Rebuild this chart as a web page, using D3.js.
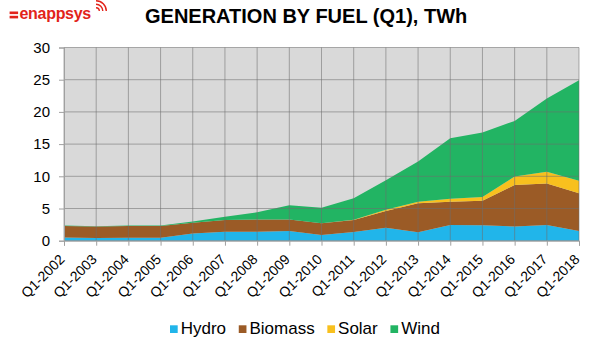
<!DOCTYPE html>
<html>
<head>
<meta charset="utf-8">
<script src="https://cdn.jsdelivr.net/npm/d3@7"></script>
<style>
  html, body { margin: 0; padding: 0; background: #fff; }
  svg { display: block; font-family: "Liberation Sans", Arial, sans-serif; }
</style>
</head>
<body>
<svg id="chart" width="606" height="354"></svg>
<script>
const categories = ["Q1-2002","Q1-2003","Q1-2004","Q1-2005","Q1-2006","Q1-2007","Q1-2008","Q1-2009","Q1-2010","Q1-2011","Q1-2012","Q1-2013","Q1-2014","Q1-2015","Q1-2016","Q1-2017","Q1-2018"];
const hydro   = [0.5, 0.4, 0.45, 0.45, 1.1, 1.4, 1.4, 1.5, 0.9, 1.35, 2.0, 1.3, 2.45, 2.4, 2.2, 2.45, 1.5];
const biomass = [1.8, 1.8, 1.85, 1.85, 1.7, 1.8, 1.9, 1.8, 1.8, 1.85, 2.6, 4.5, 3.6, 3.8, 6.45, 6.45, 5.85];
const solar   = [0, 0, 0, 0, 0, 0, 0, 0, 0, 0.05, 0.2, 0.25, 0.45, 0.6, 1.3, 1.8, 1.95];
const wind    = [0.05, 0.05, 0.05, 0.05, 0.2, 0.5, 1.1, 2.2, 2.4, 3.35, 4.6, 6.25, 9.4, 10.0, 8.65, 11.4, 15.6];
const yTicks  = [0, 5, 10, 15, 20, 25, 30];
const seriesNames = ["Hydro", "Biomass", "Solar", "Wind"];
const colors = {Hydro: "#21b5ea", Biomass: "#9b5b26", Solar: "#f8c01e", Wind: "#22b463"};

const svg = d3.select("#chart");
const pLeft = 64, pRight = 579, pTop = 47.5, pBottom = 240.7;

const table = categories.map((c, i) => ({cat: c, Hydro: hydro[i], Biomass: biomass[i], Solar: solar[i], Wind: wind[i]}));
const stacked = d3.stack().keys(seriesNames)(table);

const x = d3.scalePoint().domain(categories).range([pLeft, pRight]);
const y = d3.scaleLinear().domain([0, 30]).range([pBottom, pTop]);

// plot background
svg.append("rect").attr("x", pLeft).attr("y", pTop).attr("width", pRight - pLeft).attr("height", pBottom - pTop).attr("fill", "#d9d9d9");

// areas
const area = d3.area().x(d => x(d.data.cat)).y0(d => y(d[0])).y1(d => y(d[1]));
svg.append("g").selectAll("path").data(stacked).join("path")
  .attr("d", area).attr("fill", d => colors[d.key]);

// grid lines over areas
const grid = svg.append("g").attr("stroke", "#6e6e6e").attr("stroke-opacity", 0.55).attr("stroke-width", 1);
yTicks.forEach(t => grid.append("line").attr("x1", pLeft).attr("x2", pRight).attr("y1", y(t)).attr("y2", y(t)));
categories.forEach(c => grid.append("line").attr("x1", x(c)).attr("x2", x(c)).attr("y1", pTop).attr("y2", pBottom));

// y axis
const yAxis = d3.axisLeft(y).tickValues(yTicks).tickSize(5).tickPadding(9);
const gy = svg.append("g").attr("transform", `translate(${pLeft},0)`).call(yAxis);
gy.select(".domain").attr("stroke", "#a0a0a0");
gy.selectAll(".tick line").attr("stroke", "#a0a0a0");
gy.selectAll(".tick text").attr("font-size", "15px").attr("fill", "#000").attr("font-family", "Liberation Sans, Arial, sans-serif");

// x axis
const xAxis = d3.axisBottom(x).tickSize(5).tickPadding(3);
const gx = svg.append("g").attr("transform", `translate(0,${pBottom})`).call(xAxis);
gx.select(".domain").attr("stroke", "#a0a0a0");
gx.selectAll(".tick line").attr("stroke", "#a0a0a0");
gx.selectAll(".tick text")
  .attr("font-size", "14px").attr("fill", "#000").attr("font-family", "Liberation Sans, Arial, sans-serif")
  .attr("text-anchor", "end")
  .attr("dy", "0.35em")
  .attr("transform", "translate(-2.5,16) rotate(-45)")
  .attr("x", 0).attr("y", 0);

// title
svg.append("text").attr("x", 145).attr("y", 22.7).attr("font-size", "20px").attr("font-weight", "bold")
  .attr("fill", "#000").text("GENERATION BY FUEL (Q1), TWh");

// logo
const logo = svg.append("g").attr("fill", "#e2231a");
logo.append("rect").attr("x", 9.6).attr("y", 11.5).attr("width", 8.5).attr("height", 2.6);
logo.append("rect").attr("x", 9.6).attr("y", 15.8).attr("width", 8.5).attr("height", 2.6);
logo.append("text").attr("x", 19.5).attr("y", 18.5).attr("font-size", "16px").attr("font-weight", "bold")
  .attr("letter-spacing", "-0.3px").text("enappsys");
[4, 7.5, 11].forEach(r => {
  logo.append("path")
    .attr("d", d3.arc().innerRadius(r - 1.4).outerRadius(r).startAngle(0).endAngle(Math.PI / 2)())
    .attr("transform", "translate(96,11)");
});

// legend
const legend = svg.append("g").attr("font-size", "17px");
let lx = 170;
seriesNames.forEach(name => {
  legend.append("rect").attr("x", lx).attr("y", 325.3).attr("width", 7.7).attr("height", 7.7).attr("fill", colors[name]);
  const t = legend.append("text").attr("x", lx + 10.7).attr("y", 334).attr("fill", "#000").text(name);
  lx += 10.7 + t.node().getComputedTextLength() + 12.7;
});
</script>
</body>
</html>
